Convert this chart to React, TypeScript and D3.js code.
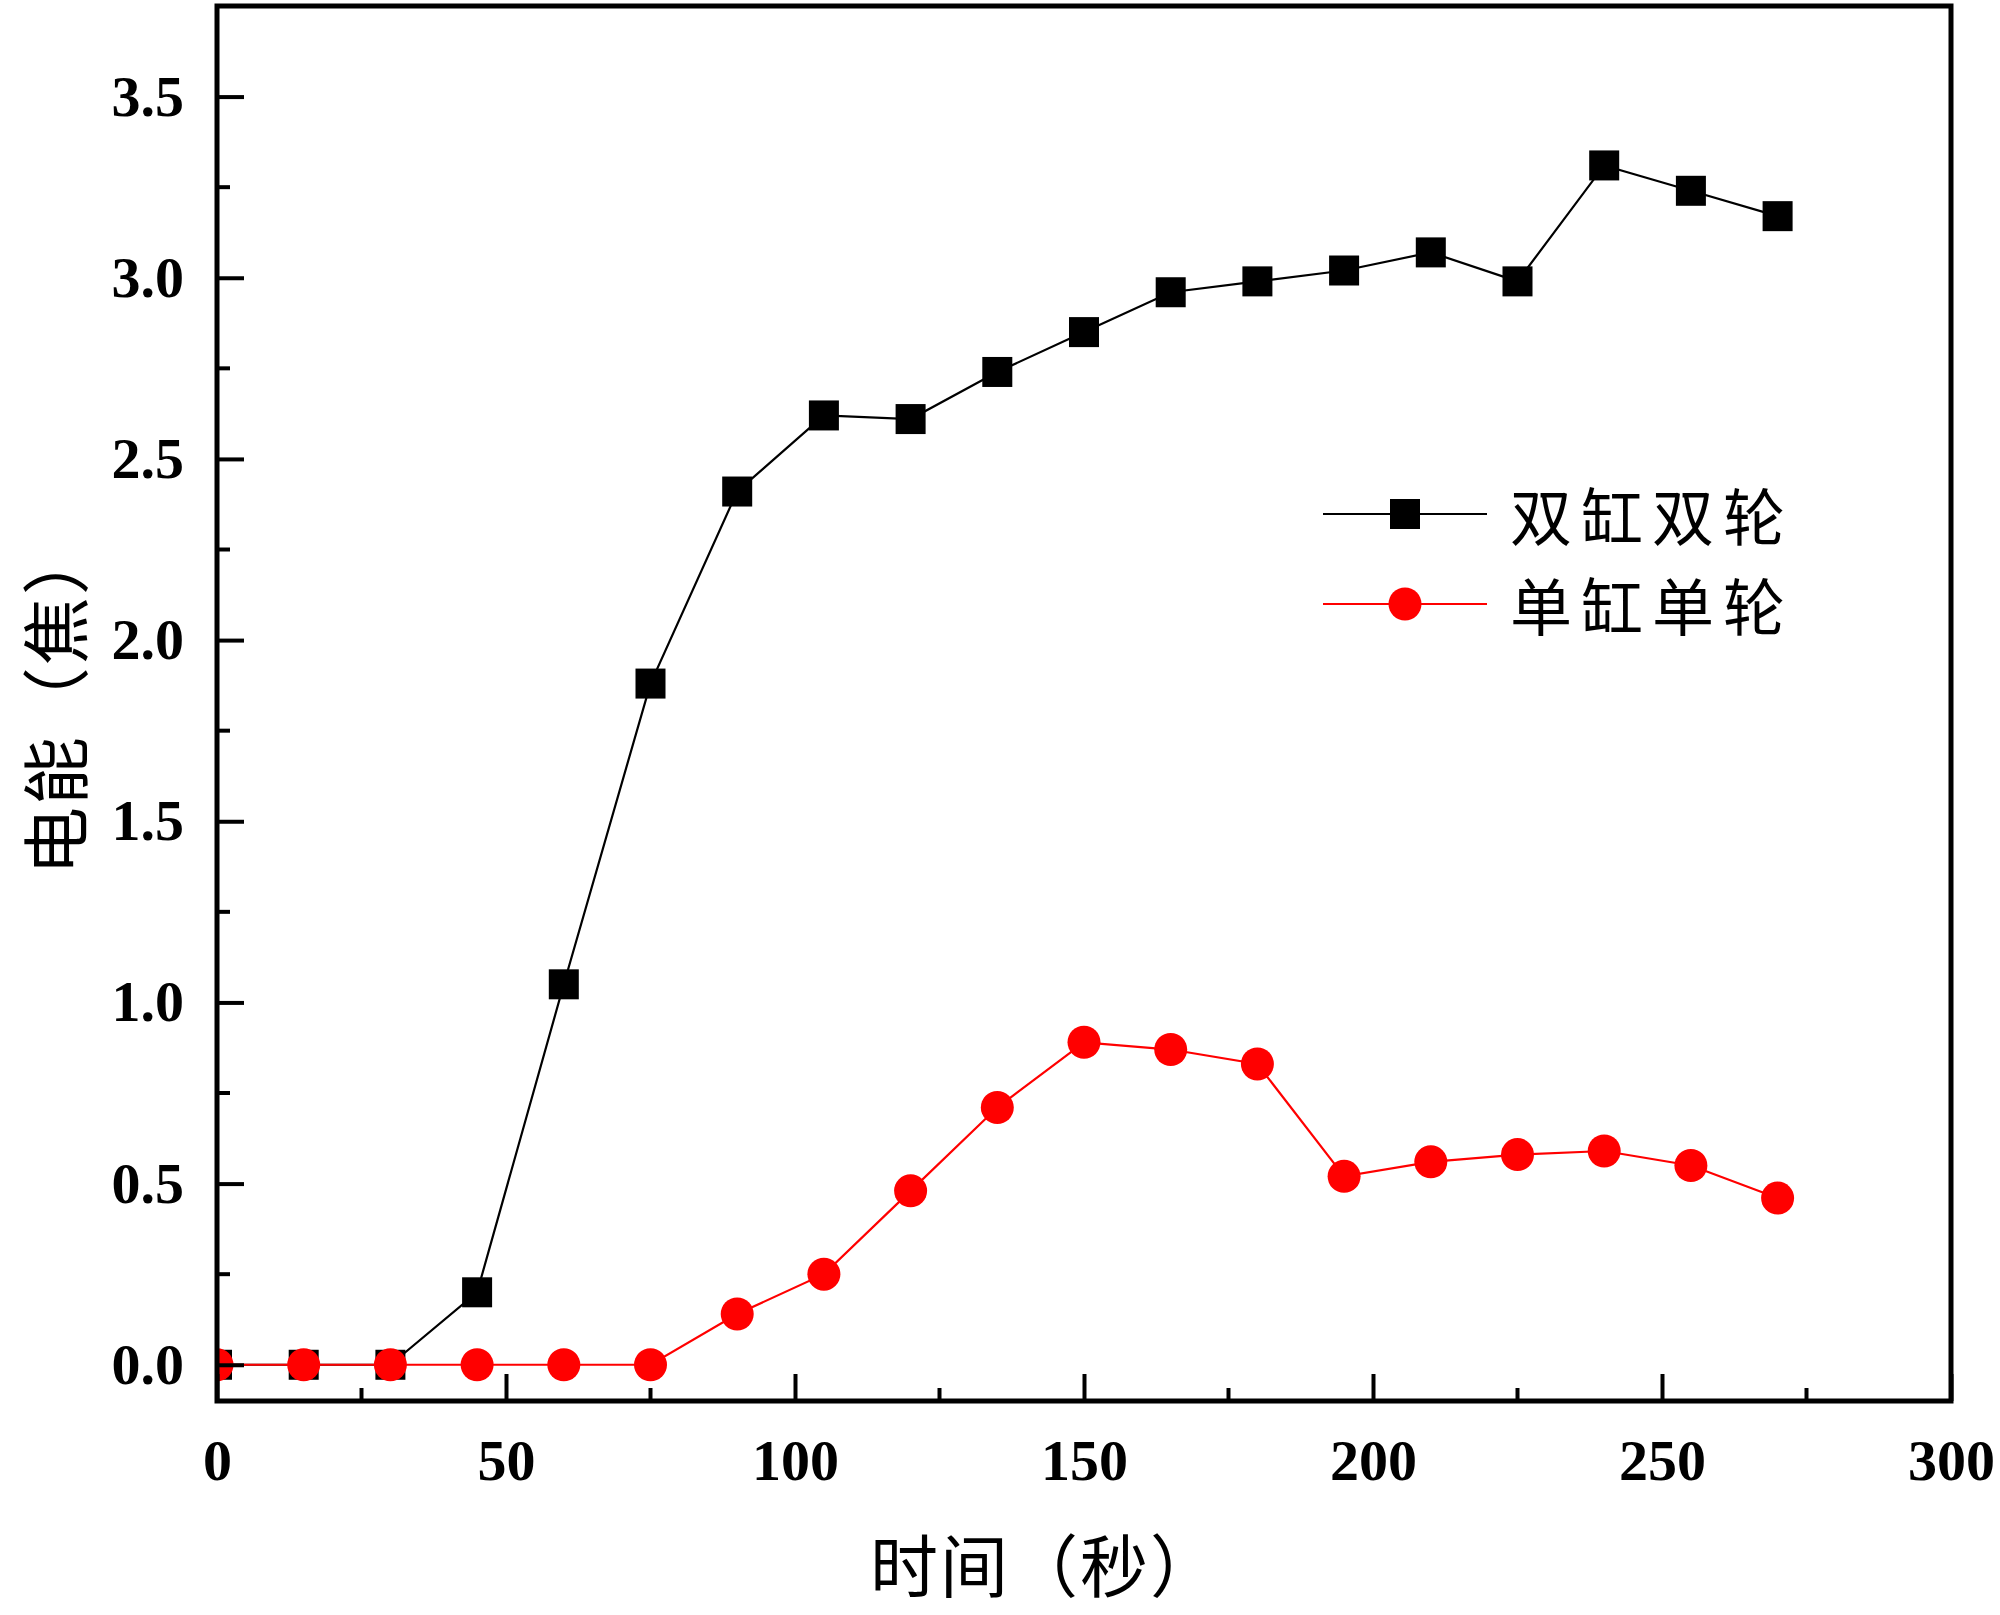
import React, { useRef, useEffect } from 'react';
import * as d3 from 'd3';

// time in seconds
const times = [0, 15, 30, 45, 60, 75, 90, 105, 120, 135, 150, 165, 180, 195, 210, 225, 240, 255, 270];
// 双缸双轮
const doubleValues = [0, 0, 0, 0.2, 1.05, 1.88, 2.41, 2.62, 2.61, 2.74, 2.85, 2.96, 2.99, 3.02, 3.07, 2.99, 3.31, 3.24, 3.17];
// 单缸单轮
const singleValues = [0, 0, 0, 0, 0, 0, 0.14, 0.25, 0.48, 0.71, 0.89, 0.87, 0.83, 0.52, 0.56, 0.58, 0.59, 0.55, 0.46];

const seriesNames = ['双缸双轮', '单缸单轮'];
const xTicks = [0, 50, 100, 150, 200, 250, 300];
const yTicks = [0, 0.5, 1.0, 1.5, 2.0, 2.5, 3.0, 3.5];

const width = 2000;
const height = 1615;

const App: React.FC = () => {
  const svgRef = useRef<SVGSVGElement>(null);

  useEffect(() => {
    if (!svgRef.current) return;
    const svg = d3.select(svgRef.current);
    svg.selectAll('*').remove();

    const left = 217, right = 1951, top = 6, bottom = 1401;
    const serif = '"Liberation Serif", "Times New Roman", serif';
    const cjk = '"Noto Sans CJK SC", sans-serif';

    const xScale = d3.scaleLinear().domain([0, 300]).range([left, right]);
    const yScale = d3.scaleLinear().domain([-0.1, 3.75]).range([bottom, top]);

    svg.append('rect').attr('width', width).attr('height', height).attr('fill', '#fff');

    // clip the markers to the plot area
    svg.append('defs').append('clipPath').attr('id', 'plot-clip')
      .append('rect')
      .attr('x', left).attr('y', top)
      .attr('width', right - left).attr('height', bottom - top);

    const plot = svg.append('g').attr('clip-path', 'url(#plot-clip)');

    const line = d3.line<number>()
      .x((_, i) => xScale(times[i]))
      .y(d => yScale(d));

    // black series with squares
    plot.append('path')
      .datum(doubleValues)
      .attr('d', line)
      .attr('fill', 'none')
      .attr('stroke', '#000')
      .attr('stroke-width', 2.2);

    const sq = 30;
    plot.selectAll('rect.sq')
      .data(doubleValues)
      .enter()
      .append('rect')
      .attr('class', 'sq')
      .attr('x', (_, i) => xScale(times[i]) - sq / 2)
      .attr('y', d => yScale(d) - sq / 2)
      .attr('width', sq)
      .attr('height', sq)
      .attr('fill', '#000');

    // red series with circles
    plot.append('path')
      .datum(singleValues)
      .attr('d', line)
      .attr('fill', 'none')
      .attr('stroke', '#ff0000')
      .attr('stroke-width', 2.2);

    plot.selectAll('circle.dot')
      .data(singleValues)
      .enter()
      .append('circle')
      .attr('class', 'dot')
      .attr('cx', (_, i) => xScale(times[i]))
      .attr('cy', d => yScale(d))
      .attr('r', 16.5)
      .attr('fill', '#ff0000');

    // axes: ticks point inward
    const xAxis = d3.axisBottom(xScale)
      .tickValues(xTicks)
      .tickSize(-27)
      .tickPadding(38)
      .tickFormat(d => `${d}`);
    const gx = svg.append('g')
      .attr('transform', `translate(0,${bottom})`)
      .call(xAxis);
    gx.select('.domain').remove();
    gx.selectAll('line').attr('stroke', '#000').attr('stroke-width', 4);
    gx.selectAll('text')
      .attr('font-family', serif)
      .attr('font-weight', 'bold')
      .attr('font-size', 58)
      .attr('fill', '#000')
      .attr('dy', '0.71em');

    const xMinor = d3.range(25, 300, 50);
    svg.append('g').selectAll('line')
      .data(xMinor)
      .enter()
      .append('line')
      .attr('x1', d => xScale(d)).attr('x2', d => xScale(d))
      .attr('y1', bottom).attr('y2', bottom - 13)
      .attr('stroke', '#000').attr('stroke-width', 4);

    const yAxis = d3.axisLeft(yScale)
      .tickValues(yTicks)
      .tickSize(-27)
      .tickPadding(33)
      .tickFormat(d3.format('.1f'));
    const gy = svg.append('g')
      .attr('transform', `translate(${left},0)`)
      .call(yAxis);
    gy.select('.domain').remove();
    gy.selectAll('line').attr('stroke', '#000').attr('stroke-width', 4);
    gy.selectAll('text')
      .attr('font-family', serif)
      .attr('font-weight', 'bold')
      .attr('font-size', 58)
      .attr('fill', '#000');

    const yMinor = d3.range(0.25, 3.75, 0.5);
    svg.append('g').selectAll('line')
      .data(yMinor)
      .enter()
      .append('line')
      .attr('x1', left).attr('x2', left + 13)
      .attr('y1', d => yScale(d)).attr('y2', d => yScale(d))
      .attr('stroke', '#000').attr('stroke-width', 4);

    // frame
    svg.append('rect')
      .attr('x', left).attr('y', top)
      .attr('width', right - left).attr('height', bottom - top)
      .attr('fill', 'none')
      .attr('stroke', '#000')
      .attr('stroke-width', 5);

    // axis titles
    svg.append('text')
      .attr('x', 1045)
      .attr('y', 1562)
      .attr('text-anchor', 'middle')
      .attr('dominant-baseline', 'central')
      .attr('font-family', cjk)
      .attr('font-size', 68)
      .attr('letter-spacing', 2)
      .attr('fill', '#000')
      .text('时间（秒）');

    svg.append('text')
      .attr('transform', `translate(52,${700}) rotate(-90)`)
      .attr('text-anchor', 'middle')
      .attr('dominant-baseline', 'central')
      .attr('font-family', cjk)
      .attr('font-size', 68)
      .attr('letter-spacing', 2)
      .attr('fill', '#000')
      .text('电能（焦）');

    // legend
    const legend = svg.append('g');
    const legendRows = [
      { name: seriesNames[0], color: '#000', y: 514, shape: 'square' },
      { name: seriesNames[1], color: '#ff0000', y: 604, shape: 'circle' },
    ];
    legendRows.forEach(row => {
      legend.append('line')
        .attr('x1', 1323).attr('x2', 1487)
        .attr('y1', row.y).attr('y2', row.y)
        .attr('stroke', row.color)
        .attr('stroke-width', 2.2);
      if (row.shape === 'square') {
        legend.append('rect')
          .attr('x', 1405 - sq / 2).attr('y', row.y - sq / 2)
          .attr('width', sq).attr('height', sq)
          .attr('fill', row.color);
      } else {
        legend.append('circle')
          .attr('cx', 1405).attr('cy', row.y)
          .attr('r', 16.5)
          .attr('fill', row.color);
      }
      legend.append('text')
        .attr('x', 1510)
        .attr('y', row.y)
        .attr('dominant-baseline', 'central')
        .attr('font-family', cjk)
        .attr('font-size', 62)
        .attr('letter-spacing', 9)
        .attr('fill', '#000')
        .text(row.name);
    });
  }, []);

  return (
    <svg
      ref={svgRef}
      width={width}
      height={height}
      style={{ position: 'absolute', left: 0, top: 0 }}
    />
  );
};

export default App;
